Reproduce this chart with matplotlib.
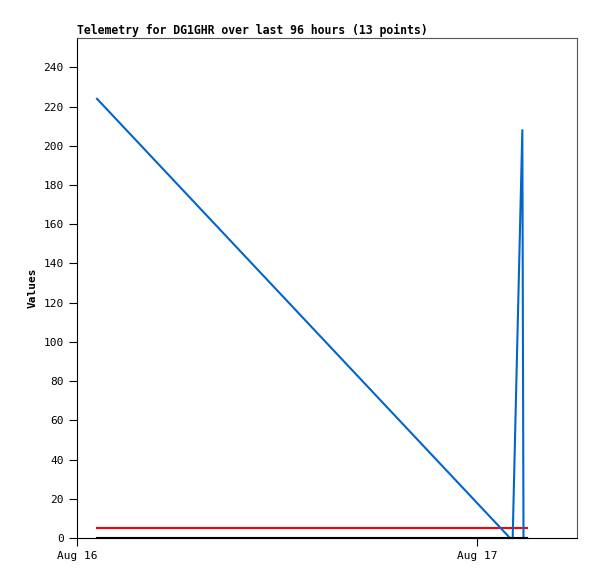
import matplotlib
matplotlib.use('Agg')
import matplotlib.pyplot as plt
import matplotlib.dates as mdates
import numpy as np
from datetime import datetime, timedelta

# hours after Aug 16 00:00
start = datetime(2023, 8, 16)
blue_hours = [1.2, 25.98, 26.14, 26.72, 26.79, 27.0]
blue_values = [224, 0, 0, 208, 0, 0]
flat_hours = [1.2, 27.0]
red_values = [5, 5]
black_values = [0, 0]

title = 'Telemetry for DG1GHR over last 96 hours (13 points)'
y_ticks = list(range(0, 241, 20))


def to_dates(hours):
    return [start + timedelta(hours=h) for h in hours]


plt.rcParams['font.family'] = ['DejaVu Sans Mono']
fig = plt.figure(figsize=(5.97, 5.79), dpi=100)
ax = fig.add_axes([77 / 597, 41 / 579, 500 / 597, 500 / 579])

ax.plot(to_dates(flat_hours), black_values, color='black', lw=1.5, clip_on=False, zorder=4)
ax.plot(to_dates(flat_hours), red_values, color='#ff0000', lw=1.5)
ax.plot(to_dates(blue_hours), blue_values, color='#0066cc', lw=1.5)

ax.set_xlim(start, start + timedelta(hours=30))
ax.set_ylim(0, 255)
ax.set_yticks(y_ticks)
ax.xaxis.set_major_locator(mdates.DayLocator())
ax.xaxis.set_major_formatter(mdates.DateFormatter('%b %d'))
ax.tick_params(direction='out', length=6, labelsize=8, top=False, right=False)
for side in ['top', 'right']:
    ax.spines[side].set_color('#555555')

ax.set_ylabel('Values', fontsize=8, fontweight='bold')
ax.set_title(title, fontsize=8.3, fontweight='bold', loc='left', pad=3)

fig.savefig('out.png', dpi=100)
